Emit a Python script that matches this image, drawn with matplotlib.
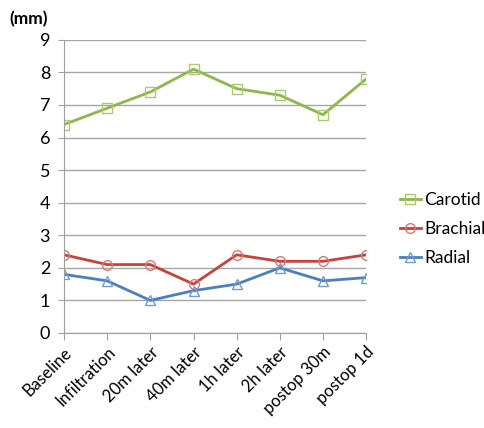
import matplotlib
matplotlib.use("Agg")
import matplotlib.pyplot as plt

categories = ["Baseline", "Infiltration", "20m later", "40m later",
              "1h later", "2h later", "postop 30m", "postop 1d"]
carotid = [6.4, 6.9, 7.4, 8.1, 7.5, 7.3, 6.7, 7.8]
brachial = [2.4, 2.1, 2.1, 1.5, 2.4, 2.2, 2.2, 2.4]
radial = [1.8, 1.6, 1.0, 1.3, 1.5, 2.0, 1.6, 1.7]

plt.rcParams["font.family"] = ["Lato", "DejaVu Sans"]

fig = plt.figure(figsize=(4.85, 4.28), dpi=100)
ax = fig.add_axes([0.132, 0.222, 0.623, 0.685])

x = list(range(len(categories)))
ax.plot(x, carotid, color="#8db849", lw=2, marker="s", ms=7,
        mfc="none", mec="#a6cc6c", mew=1, label="Carotid")
ax.plot(x, brachial, color="#c8413b", lw=2, marker="o", ms=7,
        mfc="none", mec="#e07672", mew=1, label="Brachial")
ax.plot(x, radial, color="#4a7fc4", lw=2, marker="^", ms=7,
        mfc="none", mec="#6f9bd6", mew=1, label="Radial")

ax.set_xlim(0, len(categories) - 1)
ax.set_ylim(0, 9)
ax.set_yticks(range(0, 10))
ax.set_xticks(x)
ax.set_xticklabels(categories, rotation=45, ha="right", rotation_mode="anchor",
                   fontsize=12)
ax.tick_params(axis="y", labelsize=13, length=4, color="#a0a0a0", pad=6)
ax.tick_params(axis="x", length=5, color="#a0a0a0", pad=3)
ax.grid(axis="y", color="#a6a6a6", lw=1)
ax.set_axisbelow(True)
for s in ["top", "right"]:
    ax.spines[s].set_visible(False)
for s in ["left", "bottom"]:
    ax.spines[s].set_color("#a0a0a0")

fig.text(0.02, 0.955, "(mm)", fontsize=12.5, fontweight="bold", va="center")

ax.legend(loc="center left", bbox_to_anchor=(1.06, 0.355), frameon=False,
          fontsize=12.5, handlelength=1.2, handletextpad=0.2, labelspacing=0.75)

fig.savefig("out.png", dpi=100)
